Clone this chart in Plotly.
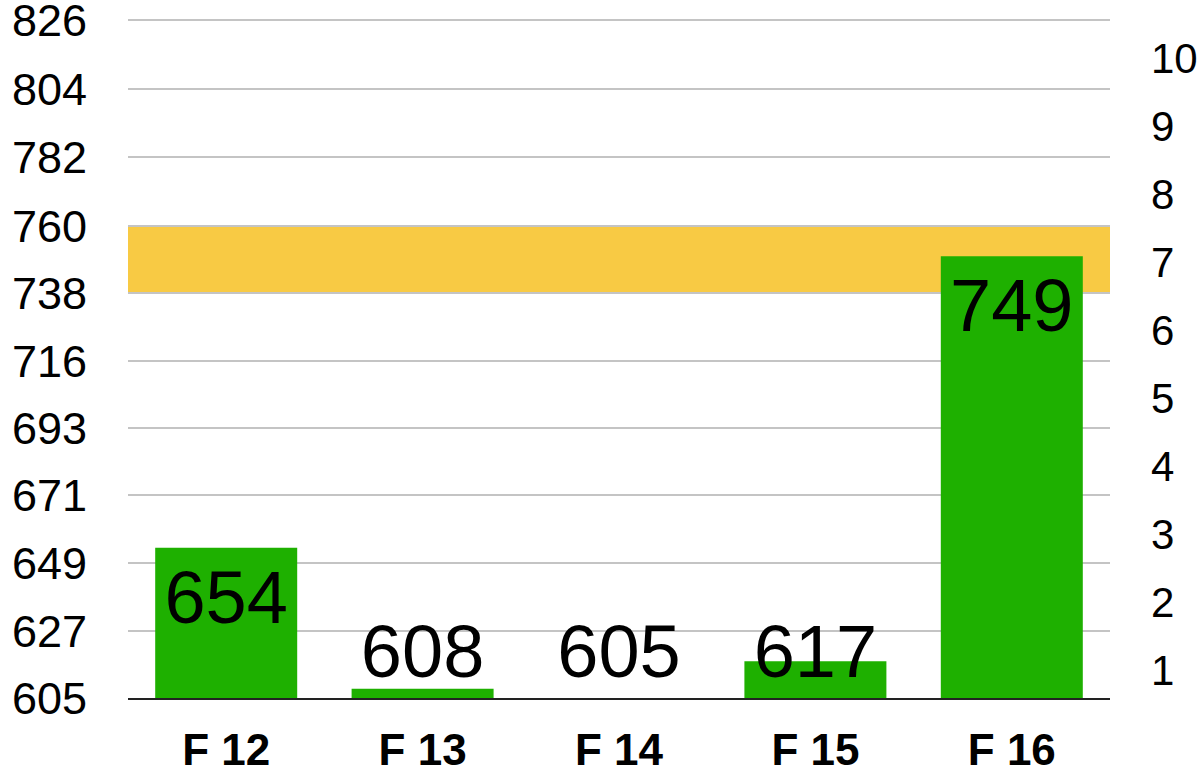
import plotly.graph_objects as go

categories = ["F 12", "F 13", "F 14", "F 15", "F 16"]
values = [654, 608, 605, 617, 749]

left_ticks = [605, 626.8, 649.0, 671.2, 693.0, 714.8, 737.0, 758.8, 781.3, 803.5, 826]
left_labels = ["605", "627", "649", "671", "693", "716", "738", "760", "782", "804", "826"]
left_range = [605, 826.65]
right_ticks = [1, 2, 3, 4, 5, 6, 7, 8, 9, 10]
right_range = [0.588, 10.60]
band = [737.0, 758.8]

label_offset = 18.5
label_floor = 617.9
label_y = [max(v - label_offset, label_floor) for v in values]

bar_color = "#1eb000"
band_color = "#f8ca44"
font_family = "Liberation Sans, Arial, sans-serif"

fig = go.Figure()
fig.add_trace(go.Bar(
    x=categories, y=values,
    marker=dict(color=bar_color, line=dict(width=0)),
    hoverinfo="skip", showlegend=False,
))
fig.add_trace(go.Scatter(
    x=categories, y=label_y, mode="text",
    text=[str(v) for v in values],
    textposition="middle center",
    textfont=dict(family=font_family, size=74, color="black"),
    hoverinfo="skip", showlegend=False, cliponaxis=False,
))
# invisible anchor trace so the secondary (right) axis is drawn
fig.add_trace(go.Scatter(
    x=categories[:1], y=right_ticks[:1], yaxis="y2", mode="markers",
    marker=dict(opacity=0), hoverinfo="skip", showlegend=False,
))

fig.add_shape(type="rect", xref="paper", x0=0, x1=1, yref="y", y0=band[0], y1=band[1],
              fillcolor=band_color, line=dict(width=0), layer="between")

fig.update_layout(
    width=1199, height=771,
    margin=dict(l=128, r=89, t=18, b=73, autoexpand=False),
    paper_bgcolor="white", plot_bgcolor="white",
    bargap=0.277,
    font=dict(family=font_family, color="black"),
    xaxis=dict(
        type="category", automargin=False,
        tickfont=dict(family=font_family, size=44, color="black", weight="bold"),
        showgrid=False, showline=True, linecolor="#222", linewidth=2,
        ticks="", ticklabelstandoff=12,
    ),
    yaxis=dict(
        range=left_range, automargin=False,
        tickmode="array", tickvals=left_ticks, ticktext=left_labels,
        tickfont=dict(family=font_family, size=45, color="black"),
        showgrid=True, gridcolor="#c4c4c4", gridwidth=2,
        zeroline=False, showline=False, ticks="", ticklabelstandoff=40,
        ticklabeloverflow="allow",
    ),
    yaxis2=dict(
        overlaying="y", side="right", range=right_range, automargin=False,
        tickmode="array", tickvals=right_ticks,
        tickfont=dict(family=font_family, size=42, color="black"),
        showgrid=False, zeroline=False, showline=False, ticks="",
        ticklabelstandoff=40, ticklabeloverflow="allow",
    ),
)

# remove the default 8px page margin so the figure fills the window exactly
fig.write_html("out.html", config={"displayModeBar": False},
               post_script="document.body.style.margin='0';")
